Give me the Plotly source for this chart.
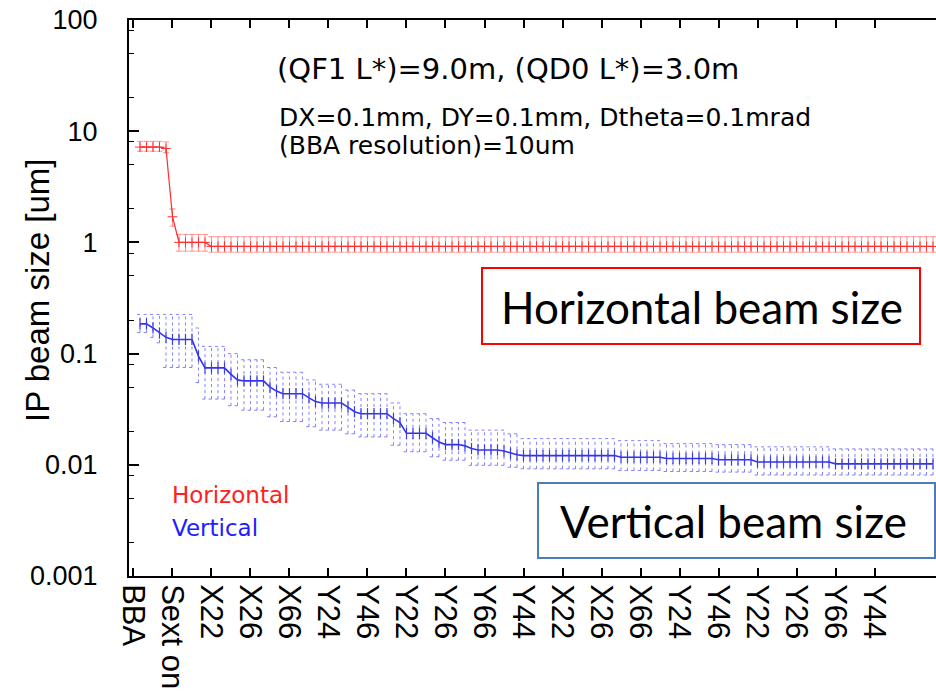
import plotly.graph_objects as go

# ---------------- data ----------------
tick_labels = ["BBA", "Sext on", "X22", "X26", "X66", "Y24", "Y46", "Y22", "Y26", "Y66",
               "Y44", "X22", "X26", "X66", "Y24", "Y46", "Y22", "Y26", "Y66", "Y44"]

red_v = [
    7.2, 7.2, 7.2, 7.2, 7.0, 1.7, 1.0, 1.0, 1.0, 1.0,
    1.0, 0.92, 0.92, 0.92, 0.92, 0.92, 0.92, 0.92, 0.92, 0.92,
    0.92, 0.92, 0.92, 0.92, 0.92, 0.92, 0.92, 0.92, 0.92, 0.92,
    0.92, 0.92, 0.92, 0.92, 0.92, 0.92, 0.92, 0.92, 0.92, 0.92,
    0.92, 0.92, 0.92, 0.92, 0.92, 0.92, 0.92, 0.92, 0.92, 0.92,
    0.92, 0.92, 0.92, 0.92, 0.92, 0.92, 0.92, 0.92, 0.92, 0.92,
    0.92, 0.92, 0.92, 0.92, 0.92, 0.92, 0.92, 0.92, 0.92, 0.92,
    0.92, 0.92, 0.92, 0.92, 0.92, 0.92, 0.92, 0.92, 0.92, 0.92,
    0.92, 0.92, 0.92, 0.92, 0.92, 0.92, 0.92, 0.92, 0.92, 0.92,
    0.92, 0.92, 0.92, 0.92, 0.92, 0.92, 0.92, 0.92, 0.92, 0.92,
    0.92, 0.92, 0.92, 0.92, 0.92, 0.92, 0.92, 0.92, 0.92, 0.92,
    0.92, 0.92, 0.92, 0.92, 0.92, 0.92, 0.92, 0.92, 0.92, 0.92,
    0.92, 0.92, 0.92,
]
red_hi = [
    8.1, 8.1, 8.1, 8.1, 8.0, 2.0, 1.18, 1.18, 1.18, 1.18,
    1.18, 1.125, 1.125, 1.125, 1.125, 1.125, 1.125, 1.125, 1.125, 1.125,
    1.125, 1.125, 1.125, 1.125, 1.125, 1.125, 1.125, 1.125, 1.125, 1.125,
    1.125, 1.125, 1.125, 1.125, 1.125, 1.125, 1.125, 1.125, 1.125, 1.125,
    1.125, 1.125, 1.125, 1.125, 1.125, 1.125, 1.125, 1.125, 1.125, 1.125,
    1.125, 1.125, 1.125, 1.125, 1.125, 1.125, 1.125, 1.125, 1.125, 1.125,
    1.125, 1.125, 1.125, 1.125, 1.125, 1.125, 1.125, 1.125, 1.125, 1.125,
    1.125, 1.125, 1.125, 1.125, 1.125, 1.125, 1.125, 1.125, 1.125, 1.125,
    1.125, 1.125, 1.125, 1.125, 1.125, 1.125, 1.125, 1.125, 1.125, 1.125,
    1.125, 1.125, 1.125, 1.125, 1.125, 1.125, 1.125, 1.125, 1.125, 1.125,
    1.125, 1.125, 1.125, 1.125, 1.125, 1.125, 1.125, 1.125, 1.125, 1.125,
    1.125, 1.125, 1.125, 1.125, 1.125, 1.125, 1.125, 1.125, 1.125, 1.125,
    1.125, 1.125, 1.125,
]
red_lo = [
    6.6, 6.6, 6.6, 6.6, 6.4, 1.4, 0.834, 0.834, 0.834, 0.834,
    0.834, 0.817, 0.817, 0.817, 0.817, 0.817, 0.817, 0.817, 0.817, 0.817,
    0.817, 0.817, 0.817, 0.817, 0.817, 0.817, 0.817, 0.817, 0.817, 0.817,
    0.817, 0.817, 0.817, 0.817, 0.817, 0.817, 0.817, 0.817, 0.817, 0.817,
    0.817, 0.817, 0.817, 0.817, 0.817, 0.817, 0.817, 0.817, 0.817, 0.817,
    0.817, 0.817, 0.817, 0.817, 0.817, 0.817, 0.817, 0.817, 0.817, 0.817,
    0.817, 0.817, 0.817, 0.817, 0.817, 0.817, 0.817, 0.817, 0.817, 0.817,
    0.817, 0.817, 0.817, 0.817, 0.817, 0.817, 0.817, 0.817, 0.817, 0.817,
    0.817, 0.817, 0.817, 0.817, 0.817, 0.817, 0.817, 0.817, 0.817, 0.817,
    0.817, 0.817, 0.817, 0.817, 0.817, 0.817, 0.817, 0.817, 0.817, 0.817,
    0.817, 0.817, 0.817, 0.817, 0.817, 0.817, 0.817, 0.817, 0.817, 0.817,
    0.817, 0.817, 0.817, 0.817, 0.817, 0.817, 0.817, 0.817, 0.817, 0.817,
    0.817, 0.817, 0.817,
]

blue_v = [
    0.185, 0.185, 0.17, 0.153, 0.14, 0.134, 0.134, 0.134, 0.134, 0.095,
    0.0744, 0.0744, 0.0744, 0.0744, 0.065, 0.058, 0.0568, 0.0568, 0.0568, 0.0568,
    0.05, 0.046, 0.0436, 0.0436, 0.0436, 0.0436, 0.040, 0.037, 0.0359, 0.0359,
    0.0359, 0.0359, 0.033, 0.030, 0.0288, 0.0288, 0.0288, 0.0288, 0.0288, 0.026,
    0.024, 0.0192, 0.0192, 0.0192, 0.0192, 0.0175, 0.016, 0.0152, 0.0152, 0.0152,
    0.0148, 0.014, 0.0136, 0.0136, 0.0136, 0.0136, 0.0133, 0.0127, 0.0123, 0.0121,
    0.0121, 0.0121, 0.0121, 0.0121, 0.0121, 0.0121, 0.0121, 0.0121, 0.0121, 0.0121,
    0.0121, 0.0121, 0.0121, 0.0121, 0.0117, 0.0117, 0.0117, 0.0117, 0.0117, 0.0117,
    0.0117, 0.0114, 0.0114, 0.0114, 0.0114, 0.0114, 0.0114, 0.0114, 0.0114, 0.0111,
    0.0111, 0.0111, 0.0111, 0.0111, 0.0111, 0.0106, 0.0106, 0.0106, 0.0106, 0.0106,
    0.0106, 0.0106, 0.0106, 0.0106, 0.0106, 0.0106, 0.0106, 0.0102, 0.0102, 0.0102,
    0.0102, 0.0102, 0.0102, 0.0102, 0.0102, 0.0102, 0.0102, 0.0102, 0.0102, 0.0102,
    0.0102, 0.0102, 0.0102,
]
blue_hi = [
    0.225, 0.225, 0.225, 0.225, 0.225, 0.225, 0.225, 0.225, 0.225, 0.17,
    0.116, 0.116, 0.116, 0.116, 0.1, 0.1, 0.088, 0.088, 0.088, 0.088,
    0.075, 0.075, 0.068, 0.068, 0.068, 0.068, 0.058, 0.058, 0.053, 0.053,
    0.053, 0.053, 0.047, 0.047, 0.0436, 0.0436, 0.0436, 0.0436, 0.0436, 0.036,
    0.036, 0.0288, 0.0288, 0.0288, 0.0288, 0.026, 0.026, 0.024, 0.024, 0.024,
    0.024, 0.0205, 0.0205, 0.0205, 0.0205, 0.0205, 0.0205, 0.019, 0.019, 0.0172,
    0.0172, 0.0172, 0.0172, 0.0172, 0.0172, 0.0172, 0.0172, 0.0172, 0.0172, 0.0172,
    0.0172, 0.0172, 0.0172, 0.0172, 0.0165, 0.0165, 0.0165, 0.0165, 0.0165, 0.0165,
    0.0165, 0.0155, 0.0155, 0.0155, 0.0155, 0.0155, 0.0155, 0.0155, 0.0155, 0.0152,
    0.0152, 0.0152, 0.0152, 0.0152, 0.0152, 0.0145, 0.0145, 0.0145, 0.0145, 0.0145,
    0.0145, 0.0145, 0.0145, 0.0145, 0.0145, 0.0145, 0.0145, 0.0139, 0.0139, 0.0139,
    0.0139, 0.0139, 0.0139, 0.0139, 0.0139, 0.0139, 0.0139, 0.0139, 0.0139, 0.0139,
    0.0139, 0.0139, 0.0139,
]
blue_lo = [
    0.155, 0.155, 0.14, 0.125, 0.075, 0.075, 0.075, 0.075, 0.075, 0.055,
    0.039, 0.039, 0.039, 0.039, 0.034, 0.034, 0.031, 0.031, 0.031, 0.031,
    0.027, 0.027, 0.0245, 0.0245, 0.0245, 0.0245, 0.022, 0.022, 0.0205, 0.0205,
    0.0205, 0.0205, 0.019, 0.019, 0.0178, 0.0178, 0.0178, 0.0178, 0.0178, 0.015,
    0.015, 0.0131, 0.0131, 0.0131, 0.0131, 0.0118, 0.0118, 0.0110, 0.0110, 0.0110,
    0.0110, 0.0099, 0.0099, 0.0099, 0.0099, 0.0099, 0.0099, 0.0095, 0.0095, 0.0092,
    0.0092, 0.0092, 0.0092, 0.0092, 0.0092, 0.0092, 0.0092, 0.0092, 0.0092, 0.0092,
    0.0092, 0.0092, 0.0092, 0.0092, 0.0089, 0.0089, 0.0089, 0.0089, 0.0089, 0.0089,
    0.0089, 0.0087, 0.0087, 0.0087, 0.0087, 0.0087, 0.0087, 0.0087, 0.0087, 0.0086,
    0.0086, 0.0086, 0.0086, 0.0086, 0.0086, 0.0081, 0.0081, 0.0081, 0.0081, 0.0081,
    0.0081, 0.0081, 0.0081, 0.0081, 0.0081, 0.0081, 0.0081, 0.0081, 0.0081, 0.0081,
    0.0081, 0.0081, 0.0081, 0.0081, 0.0081, 0.0081, 0.0081, 0.0081, 0.0081, 0.0081,
    0.0081, 0.0081, 0.0081,
]

step = list(range(len(blue_v)))           # measurement index
tick_steps = [-1 + 6 * j for j in range(len(tick_labels))]

# ---------------- layout geometry ----------------
W, H = 936, 697
L, T, R, B = 129, 20, 0, 121
PW, PH = W - L - R, H - T - B


def px(x):
    return (x - L) / PW


def py(y):
    return (H - B - y) / PH


fig = go.Figure()

# dotted error bars for the vertical beam size (built from the data arrays)
CAP = 0.45
ex, ey = [], []
for s, lo, hi in zip(step, blue_lo, blue_hi):
    ex += [s, s, None, s - CAP, s + CAP, None, s - CAP, s + CAP, None]
    ey += [lo, hi, None, hi, hi, None, lo, lo, None]
fig.add_trace(go.Scatter(
    x=ex, y=ey, mode="lines", connectgaps=False,
    line=dict(color="rgba(90,90,255,0.75)", width=1, dash="dot"),
    showlegend=False, hoverinfo="skip"))

fig.add_trace(go.Scatter(
    x=step, y=blue_v, mode="lines+markers",
    line=dict(color="#3434e6", width=1.6),
    marker=dict(symbol="line-ns", size=8, line=dict(color="#3a3aee", width=1.2)),
    showlegend=False, hoverinfo="skip"))

fig.add_trace(go.Scatter(
    x=step, y=red_v, mode="lines+markers",
    line=dict(color="#ff2a2a", width=1.2),
    marker=dict(symbol="cross-thin", size=7, line=dict(color="#ff3030", width=1)),
    error_y=dict(type="data", symmetric=False,
                 array=[h - v for h, v in zip(red_hi, red_v)],
                 arrayminus=[v - l for l, v in zip(red_lo, red_v)],
                 color="rgba(255,80,80,0.8)", thickness=0.8, width=3),
    showlegend=False, hoverinfo="skip"))

decades = [0.001, 0.01, 0.1, 1, 10]
minor_vals = [d * m for d in decades for m in (2, 5, 8)]

fig.update_layout(
    width=W, height=H,
    margin=dict(l=L, r=R, t=T, b=B, pad=0),
    paper_bgcolor="white", plot_bgcolor="white",
    font=dict(family="Liberation Sans, Arial, sans-serif", color="black"),
    xaxis=dict(
        range=[-1.69, 122.46],
        tickmode="array", tickvals=tick_steps, ticktext=tick_labels,
        tickangle=90, ticks="inside", ticklen=8, tickwidth=1.5, tickcolor="black",
        showline=True, linecolor="black", linewidth=2, mirror="ticks",
        showgrid=False, zeroline=False,
        tickfont=dict(family="Liberation Sans, Arial, sans-serif", size=31, color="black"),
    ),
    yaxis=dict(
        type="log", range=[-3, 2],
        tickmode="array", tickvals=[0.001, 0.01, 0.1, 1, 10, 100],
        ticktext=["0.001", "0.01", "0.1", "1", "10", "100"],
        ticks="inside", ticklen=10, tickwidth=2, tickcolor="black",
        showline=True, linecolor="black", linewidth=2, mirror=False,
        showgrid=False, zeroline=False,
        ticklabelstandoff=24,
        tickfont=dict(family="Liberation Sans, Arial, sans-serif", size=27, color="black"),
        minor=dict(tickmode="array", tickvals=minor_vals, ticks="inside",
                   ticklen=5, tickwidth=1.2, tickcolor="black", showgrid=False),
    ),
)

ann_font = "DejaVu Sans, Liberation Sans, sans-serif"
fig.add_annotation(text="(QF1 L*)=9.0m, (QD0 L*)=3.0m", xref="paper", yref="paper",
                   x=px(275), y=py(69), xanchor="left", yanchor="middle", showarrow=False,
                   font=dict(family=ann_font, size=29, color="black"))
fig.add_annotation(text="DX=0.1mm, DY=0.1mm, Dtheta=0.1mrad", xref="paper", yref="paper",
                   x=px(277), y=py(117), xanchor="left", yanchor="middle", showarrow=False,
                   font=dict(family=ann_font, size=25, color="black"))
fig.add_annotation(text="(BBA resolution)=10um", xref="paper", yref="paper",
                   x=px(277), y=py(145), xanchor="left", yanchor="middle", showarrow=False,
                   font=dict(family=ann_font, size=25, color="black"))
fig.add_annotation(text="Horizontal", xref="paper", yref="paper",
                   x=px(170), y=py(495), xanchor="left", yanchor="middle", showarrow=False,
                   font=dict(family=ann_font, size=23, color="#ff2020"))
fig.add_annotation(text="Vertical", xref="paper", yref="paper",
                   x=px(170), y=py(528), xanchor="left", yanchor="middle", showarrow=False,
                   font=dict(family=ann_font, size=23, color="#2020ff"))
fig.add_annotation(text="IP beam size [um]", xref="paper", yref="paper",
                   x=px(37), y=py(290), xanchor="center", yanchor="middle", showarrow=False,
                   textangle=-90,
                   font=dict(family="Liberation Sans, Arial, sans-serif", size=33, color="black"))

# overlay boxes
fig.add_shape(type="rect", xref="paper", yref="paper",
              x0=px(482), x1=px(920), y0=py(344), y1=py(268),
              line=dict(color="#ff0000", width=2), fillcolor="white", layer="above")
fig.add_annotation(text="Horizontal beam size", xref="paper", yref="paper",
                   x=px(702), y=py(307), xanchor="center", yanchor="middle", showarrow=False,
                   font=dict(family="Lato, Open Sans, sans-serif", size=44, color="black"))
fig.add_shape(type="rect", xref="paper", yref="paper",
              x0=px(538), x1=px(935), y0=py(558), y1=py(483),
              line=dict(color="#4a7ebb", width=2), fillcolor="white", layer="above")
fig.add_annotation(text="Vertical beam size", xref="paper", yref="paper",
                   x=px(733), y=py(521), xanchor="center", yanchor="middle", showarrow=False,
                   font=dict(family="Lato, Open Sans, sans-serif", size=44, color="black"))

fig.write_html("out.html")
